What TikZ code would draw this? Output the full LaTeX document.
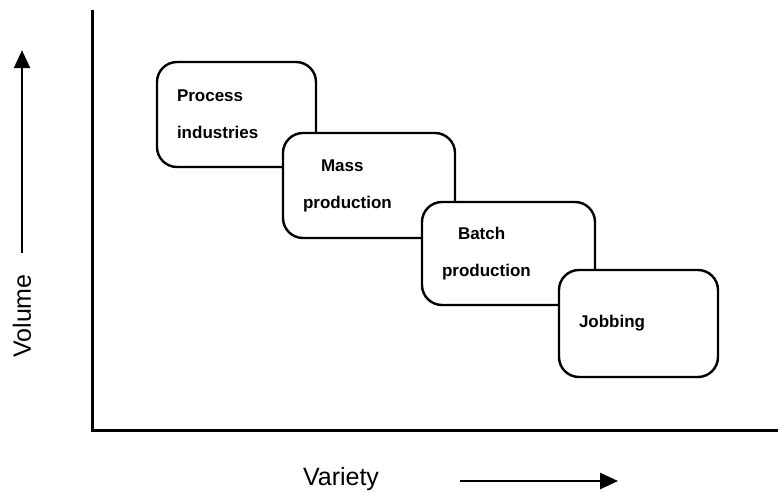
\documentclass[tikz,border=0pt]{standalone}
\usepackage{fontspec}
\setmainfont{Liberation Sans}
\usetikzlibrary{arrows.meta}

\tikzset{
  stage/.style={draw, line width=1.2pt, rounded corners=10pt, fill=white,
    align=left, inner xsep=10pt, font=\bfseries\fontsize{8.5}{18.5}\selectfont},
  axis/.style={line width=1.5pt},
  dir/.style={line width=1.3pt, -{Triangle[length=9pt,width=8pt]}},
  axlabel/.style={font=\fontsize{12.5}{15}\selectfont}
}

\begin{document}
\begin{tikzpicture}[x=0.5pt, y=-0.5pt]
  \useasboundingbox (0,0) rectangle (778,492);

  % Axes
  \coordinate (ytop) at (92,10);
  \coordinate (xend) at (778,431);
  \draw[axis] (ytop) |- (xend);

  % Axis labels
  \node[axlabel, rotate=90] (vol) at (22,316) {Volume};
  \node[axlabel] (var) at (341,479) {Variety};
  \draw[dir] ([yshift=7pt]vol.east) -- ++(0,101.5pt);
  \draw[dir] ([xshift=37pt,yshift=-1pt]var.east) -- ++(79pt,0);

  % Stages
  \node[stage, text width=59.5pt, minimum height=52.5pt] (proc) at (236.5,114.5) {Process\\industries};
  \node[stage, text width=66pt, minimum height=52.5pt] (mass) at (369,185.5) {\hspace*{9pt}Mass\\production};
  \node[stage, text width=66.5pt, minimum height=51.5pt] (batch) at (508.5,253.5) {\hspace*{8pt}Batch\\production};
  \node[stage, text width=59.5pt, minimum height=53.5pt] (job) at (638.5,323.5) {Jobbing};
\end{tikzpicture}
\end{document}
